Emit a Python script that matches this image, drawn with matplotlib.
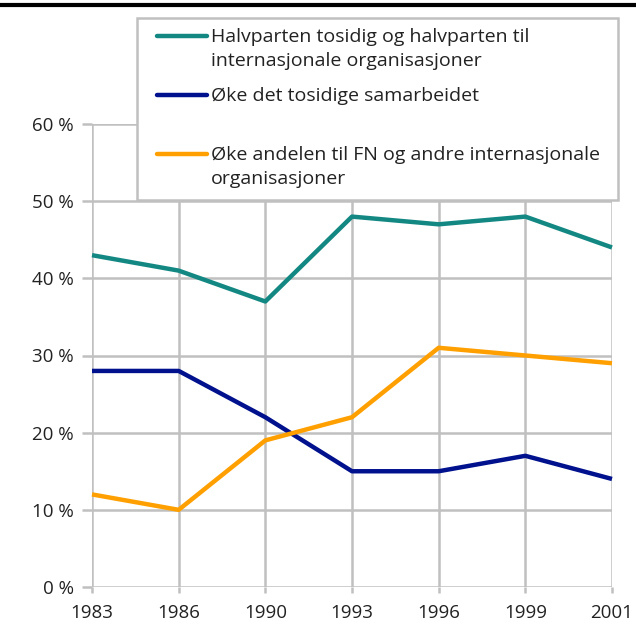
import matplotlib.pyplot as plt
from matplotlib.lines import Line2D
from matplotlib.patches import Rectangle

plt.rcParams['font.family'] = ['Open Sans', 'DejaVu Sans']

years = ["1983", "1986", "1990", "1993", "1996", "1999", "2001"]
halvparten = [43, 41, 37, 48, 47, 48, 44]
tosidig = [28, 28, 22, 15, 15, 17, 14]
fn_andel = [12, 10, 19, 22, 31, 30, 29]

labels = ["Halvparten tosidig og halvparten til\ninternasjonale organisasjoner",
          "Øke det tosidige samarbeidet",
          "Øke andelen til FN og andre internasjonale\norganisasjoner"]
colors = ["#138883", "#00118e", "#ffa000"]
grid_c = "#c0c0c0"

fig = plt.figure(figsize=(6.36, 6.44), dpi=100)
ax = fig.add_axes([92/636, 1-587/644, 520/636, 463/644])

x = list(range(len(years)))
for vals, c in zip([halvparten, tosidig, fn_andel], colors):
    ax.plot(x, vals, color=c, lw=3.2, solid_capstyle='butt', zorder=3, clip_on=False)

ax.set_xlim(0, len(years) - 1)
ax.set_ylim(0, 60)
ax.set_xticks(x)
ax.set_xticklabels(years)
ax.set_yticks(range(0, 61, 10))
ax.set_yticklabels([f"{v} %" for v in range(0, 61, 10)])
for s in ax.spines.values():
    s.set_visible(False)
ax.grid(True, color=grid_c, lw=1.8, zorder=0)
ax.tick_params(axis='y', length=7, width=1.8, color=grid_c, labelsize=13.5, pad=6, labelcolor='#222222')
ax.tick_params(axis='x', length=4, width=1.8, color=grid_c, labelsize=13.5, pad=8, labelcolor='#222222')

# legend box drawn by hand
W, H = 636, 644
def fx(px): return px / W
def fy(py): return 1 - py / H

fig.add_artist(Rectangle((fx(137), fy(200)), fx(618) - fx(137), fy(18) - fy(200),
                         transform=fig.transFigure, facecolor='white',
                         edgecolor=grid_c, lw=1.8, zorder=5))
rows = [36, 95, 154]
for lab, c, r in zip(labels, colors, rows):
    fig.add_artist(Line2D([fx(157), fx(207)], [fy(r), fy(r)], transform=fig.transFigure,
                          color=c, lw=3.2, solid_capstyle='round', zorder=6))
    fig.text(fx(211), fy(r - 8), lab, ha='left', va='top', fontsize=14,
             color='#222222', linespacing=1.4, zorder=6)

# black rule on top
fig.add_artist(Line2D([0, 1], [fy(5), fy(5)], transform=fig.transFigure, color='black', lw=3))

fig.savefig("out.png", dpi=100)
